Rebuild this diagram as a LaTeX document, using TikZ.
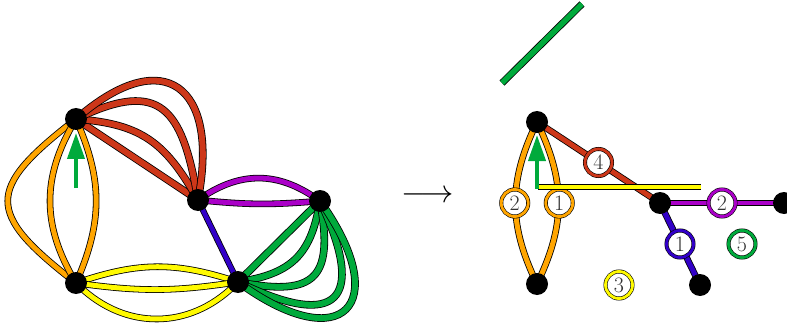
\documentclass[tikz,border=0pt]{standalone}
\usepackage{amsmath}
\usepackage{tikz}
\usetikzlibrary{arrows.meta}
\pgfdeclarelayer{background}
\pgfsetlayers{background,main}
\definecolor{edgeorange}{RGB}{255,165,0}
\definecolor{edgered}{RGB}{205,55,25}
\definecolor{edgepurple}{RGB}{170,0,200}
\definecolor{edgeblue}{RGB}{50,0,200}
\definecolor{edgeyellow}{RGB}{255,250,0}
\definecolor{edgegreen}{RGB}{0,170,60}

\begin{document}
\begin{tikzpicture}[x=1pt, y=1pt,
    dot/.style={circle, fill=black, minimum size=22pt, inner sep=0pt},
    cedge/.style={draw=black, line width=0.8pt, double distance=5pt, shorten <=-6pt, shorten >=-6pt},
    oedge/.style={cedge, double=edgeorange},
    redge/.style={cedge, double=edgered, double distance=6pt},
    pedge/.style={cedge, double=edgepurple},
    bedge/.style={cedge, double=edgeblue, double distance=4.5pt},
    yedge/.style={cedge, double=edgeyellow},
    gedge/.style={cedge, double=edgegreen, double distance=6pt},
    lbl/.style={circle, fill=white, draw=black, line width=0.6pt, double=#1, double distance=2.8pt,
        minimum size=27pt, inner sep=0pt, text=black!80, font=\fontsize{22}{22}\selectfont},
    uparrow/.style={draw=edgegreen, line width=4pt, -{Triangle[width=17pt,length=26pt]}}
  ]
  \useasboundingbox (0,0) rectangle (787,-326);
  % Nodes
  \node[dot] (a) at (76,-119) {};
  \node[dot] (b) at (76,-283) {};
  \node[dot] (c) at (198,-200) {};
  \node[dot] (d) at (320,-201) {};
  \node[dot] (e) at (238,-282) {};
  \node[scale=1.3] (to) at (428,-197) {\fontsize{24.88}{25}\selectfont$\longrightarrow$};
  \node[dot] (a2) at (537,-122) {};
  \node[dot] (b2) at (537,-284) {};
  \node[dot] (c2) at (660,-203) {};
  \node[dot] (d2) at (784,-203) {};
  \node[dot] (e2) at (700,-285) {};
  \node[lbl=edgeyellow] (y3) at (619,-285) {3};
  \node[lbl=edgegreen] (g5) at (742,-244) {5};
  % Edges
  \begin{pgfonlayer}{background}
    \draw[oedge] (a) to[bend right=52, looseness=1.75] (b);
    \draw[oedge] (a) to[bend right=30] (b);
    \draw[oedge] (a) to[bend left=23] (b);
    \draw[redge] (a) -- (c);
    \draw[redge] (a) to[out=-5, in=120, looseness=1.1] (c);
    \draw[redge] (a) to[out=25, in=100, looseness=1.57] (c);
    \draw[redge] (a) to[out=40, in=80, looseness=1.92] (c);
    \draw[pedge] (c) to[bend left=34] (d);
    \draw[pedge] (c) to[bend right=5] (d);
    \draw[bedge] (c) -- (e);
    \draw[yedge] (b) to[bend left=18] (e);
    \draw[yedge] (b) to[bend right=8] (e);
    \draw[yedge] (b) to[bend right=44] (e);
    \draw[gedge] (e) -- (d);
    \draw[gedge] (e) to[bend right=35, looseness=1.13] (d);
    \draw[gedge] (e) to[bend right=55, looseness=1.66] (d);
    \draw[gedge] (e) to[bend right=70, looseness=2.33] (d);
    \draw[gedge] (e) to[bend right=80, looseness=2.66] (d);
    % right side
    \draw[oedge] (a2) to[bend right=25] node[lbl=edgeorange] {2} (b2);
    \draw[oedge] (a2) to[bend left=25] node[lbl=edgeorange] {1} (b2);
    \draw[redge, double distance=5pt] (a2) -- node[lbl=edgered] {4} (c2);
    \draw[pedge, double distance=4.5pt] (c2) -- node[lbl=edgepurple] {2} (d2);
    \draw[bedge, double distance=5pt] (c2) -- node[lbl=edgeblue] {1} (e2);
  \end{pgfonlayer}
  % Free lines
  \coordinate (s1) at (76,-188);
  \coordinate (t1) at (76,-133);
  \draw[uparrow] (s1) -- (t1);
  \coordinate (ys) at (538,-187);
  \coordinate (yt) at (701,-187);
  \draw[cedge, double=edgeyellow, double distance=4pt, shorten <=0pt, shorten >=0pt] (ys) -- (yt);
  \coordinate (s2) at (537,-189);
  \coordinate (t2) at (537,-135);
  \draw[uparrow] (s2) -- (t2);
  \coordinate (gs) at (502,-83);
  \coordinate (gt) at (582,-4);
  \draw[cedge, double=edgegreen, double distance=5.5pt, shorten <=0pt, shorten >=0pt] (gs) -- (gt);
\end{tikzpicture}
\end{document}
